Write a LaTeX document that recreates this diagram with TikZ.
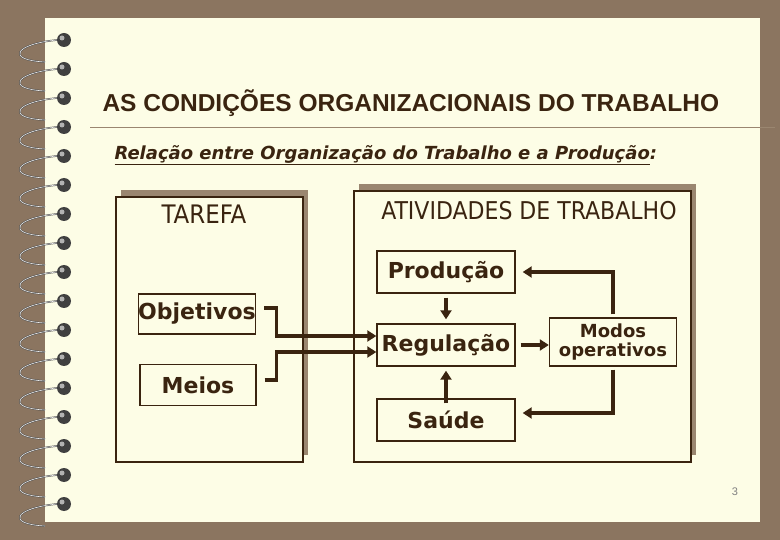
\documentclass[tikz,border=0pt]{standalone}
\usepackage{fontspec}
\setmainfont{Liberation Sans}
\newfontfamily\dv{DejaVu Sans}
\newfontfamily\dvc{DejaVu Sans Condensed}
\usetikzlibrary{arrows.meta}
\definecolor{bgbrown}{HTML}{8B7560}
\definecolor{paper}{HTML}{FDFDE6}
\definecolor{ink}{HTML}{3A2410}
\definecolor{shad}{HTML}{9A8670}
\begin{document}
\begin{tikzpicture}[x=1pt,y=-1pt,
  big/.style={draw=ink,line width=1.6pt,fill=paper},
  sm/.style={draw=ink,line width=1.4pt,fill=paper,inner sep=0pt,font=\dv\bfseries\fontsize{22}{23}\selectfont,text=ink},
  conn/.style={ink,line width=3.5pt,-{Triangle[length=9pt,width=11pt]}}]
\useasboundingbox (0,0) rectangle (780,540);
\fill[bgbrown] (0,0) rectangle (780,540);
\fill[paper] (45,18) rectangle (760,522);
\foreach \i in {0,...,16}{
  \pgfmathsetmacro\yy{40+\i*29}
  \draw[black!70,line width=1.6pt] (57,\yy) .. controls (15,\yy+4) and (5,\yy+20) .. (45,\yy+22);
  \draw[white!85!gray,line width=0.6pt] (57,\yy) .. controls (15,\yy+4) and (5,\yy+20) .. (45,\yy+22);
  \fill[black!75] (64,\yy) circle (7);
  \fill[gray!60] (62,\yy-2) circle (2.5);
}
\node[anchor=west,font=\bfseries\fontsize{24.5}{26}\selectfont,text=ink] (title) at (99,103) {AS CONDIÇÕES ORGANIZACIONAIS DO TRABALHO};
\draw[shad,line width=0.8pt] (90,127) -- (775,127);
\node[anchor=west,font=\dv\bfseries\itshape\fontsize{18}{20}\selectfont,text=ink] (sub) at (111,155) {\underline{Relação entre Organização do Trabalho e a Produção}:};
\fill[shad] (121,190) rectangle (308,455);
\fill[shad] (359,184) rectangle (696,455);
\node[big,minimum width=187,minimum height=265,anchor=north west] (tarefa) at (115,196) {};
\node[big,minimum width=337,minimum height=271,anchor=north west] (ativ) at (353,190) {};
\node[font=\dvc\fontsize{25.5}{27}\selectfont,text=ink] (t1) at (204,214) {TAREFA};
\node[font=\dvc\fontsize{24.5}{26}\selectfont,text=ink] (t2) at (529,211) {ATIVIDADES DE TRABALHO};
\node[sm,minimum width=117,minimum height=40] (obj) at (197,314) {Objetivos};
\node[sm,minimum width=116,minimum height=41] (meios) at (198,385) {Meios};
\node[sm,minimum width=138,minimum height=42] (prod) at (446,272) {Produção};
\node[sm,minimum width=138,minimum height=42] (reg) at (446,345) {Regulação};
\node[sm,minimum width=138,minimum height=42] (sau) at (446,420) {Saúde};
\node[sm,minimum width=127,minimum height=48,align=center,font=\dv\bfseries\fontsize{18}{19}\selectfont] (modos) at (613,342) {Modos\\operativos};
\draw[conn] ([xshift=8,yshift=6]obj.east) -- ++(12,0) |- ([yshift=9]reg.west);
\draw[conn] ([xshift=8,yshift=5]meios.east) -- ++(12,0) |- ([yshift=-7]reg.west);
\draw[conn] ([yshift=-4]prod.south) -- ([yshift=4]reg.north);
\draw[conn] ([yshift=-5]sau.north) -- ([yshift=-4]reg.south);
\draw[conn] ([xshift=5]reg.east) -- (modos.west|-reg.east);
\draw[conn] ([yshift=3]modos.north) |- ([xshift=7]prod.east);
\draw[conn] ([yshift=-3]modos.south) |- ([xshift=7,yshift=7]sau.east);
\node[font=\fontsize{11}{12}\selectfont,text=gray] (pg) at (735,492) {3};
\end{tikzpicture}
\end{document}
